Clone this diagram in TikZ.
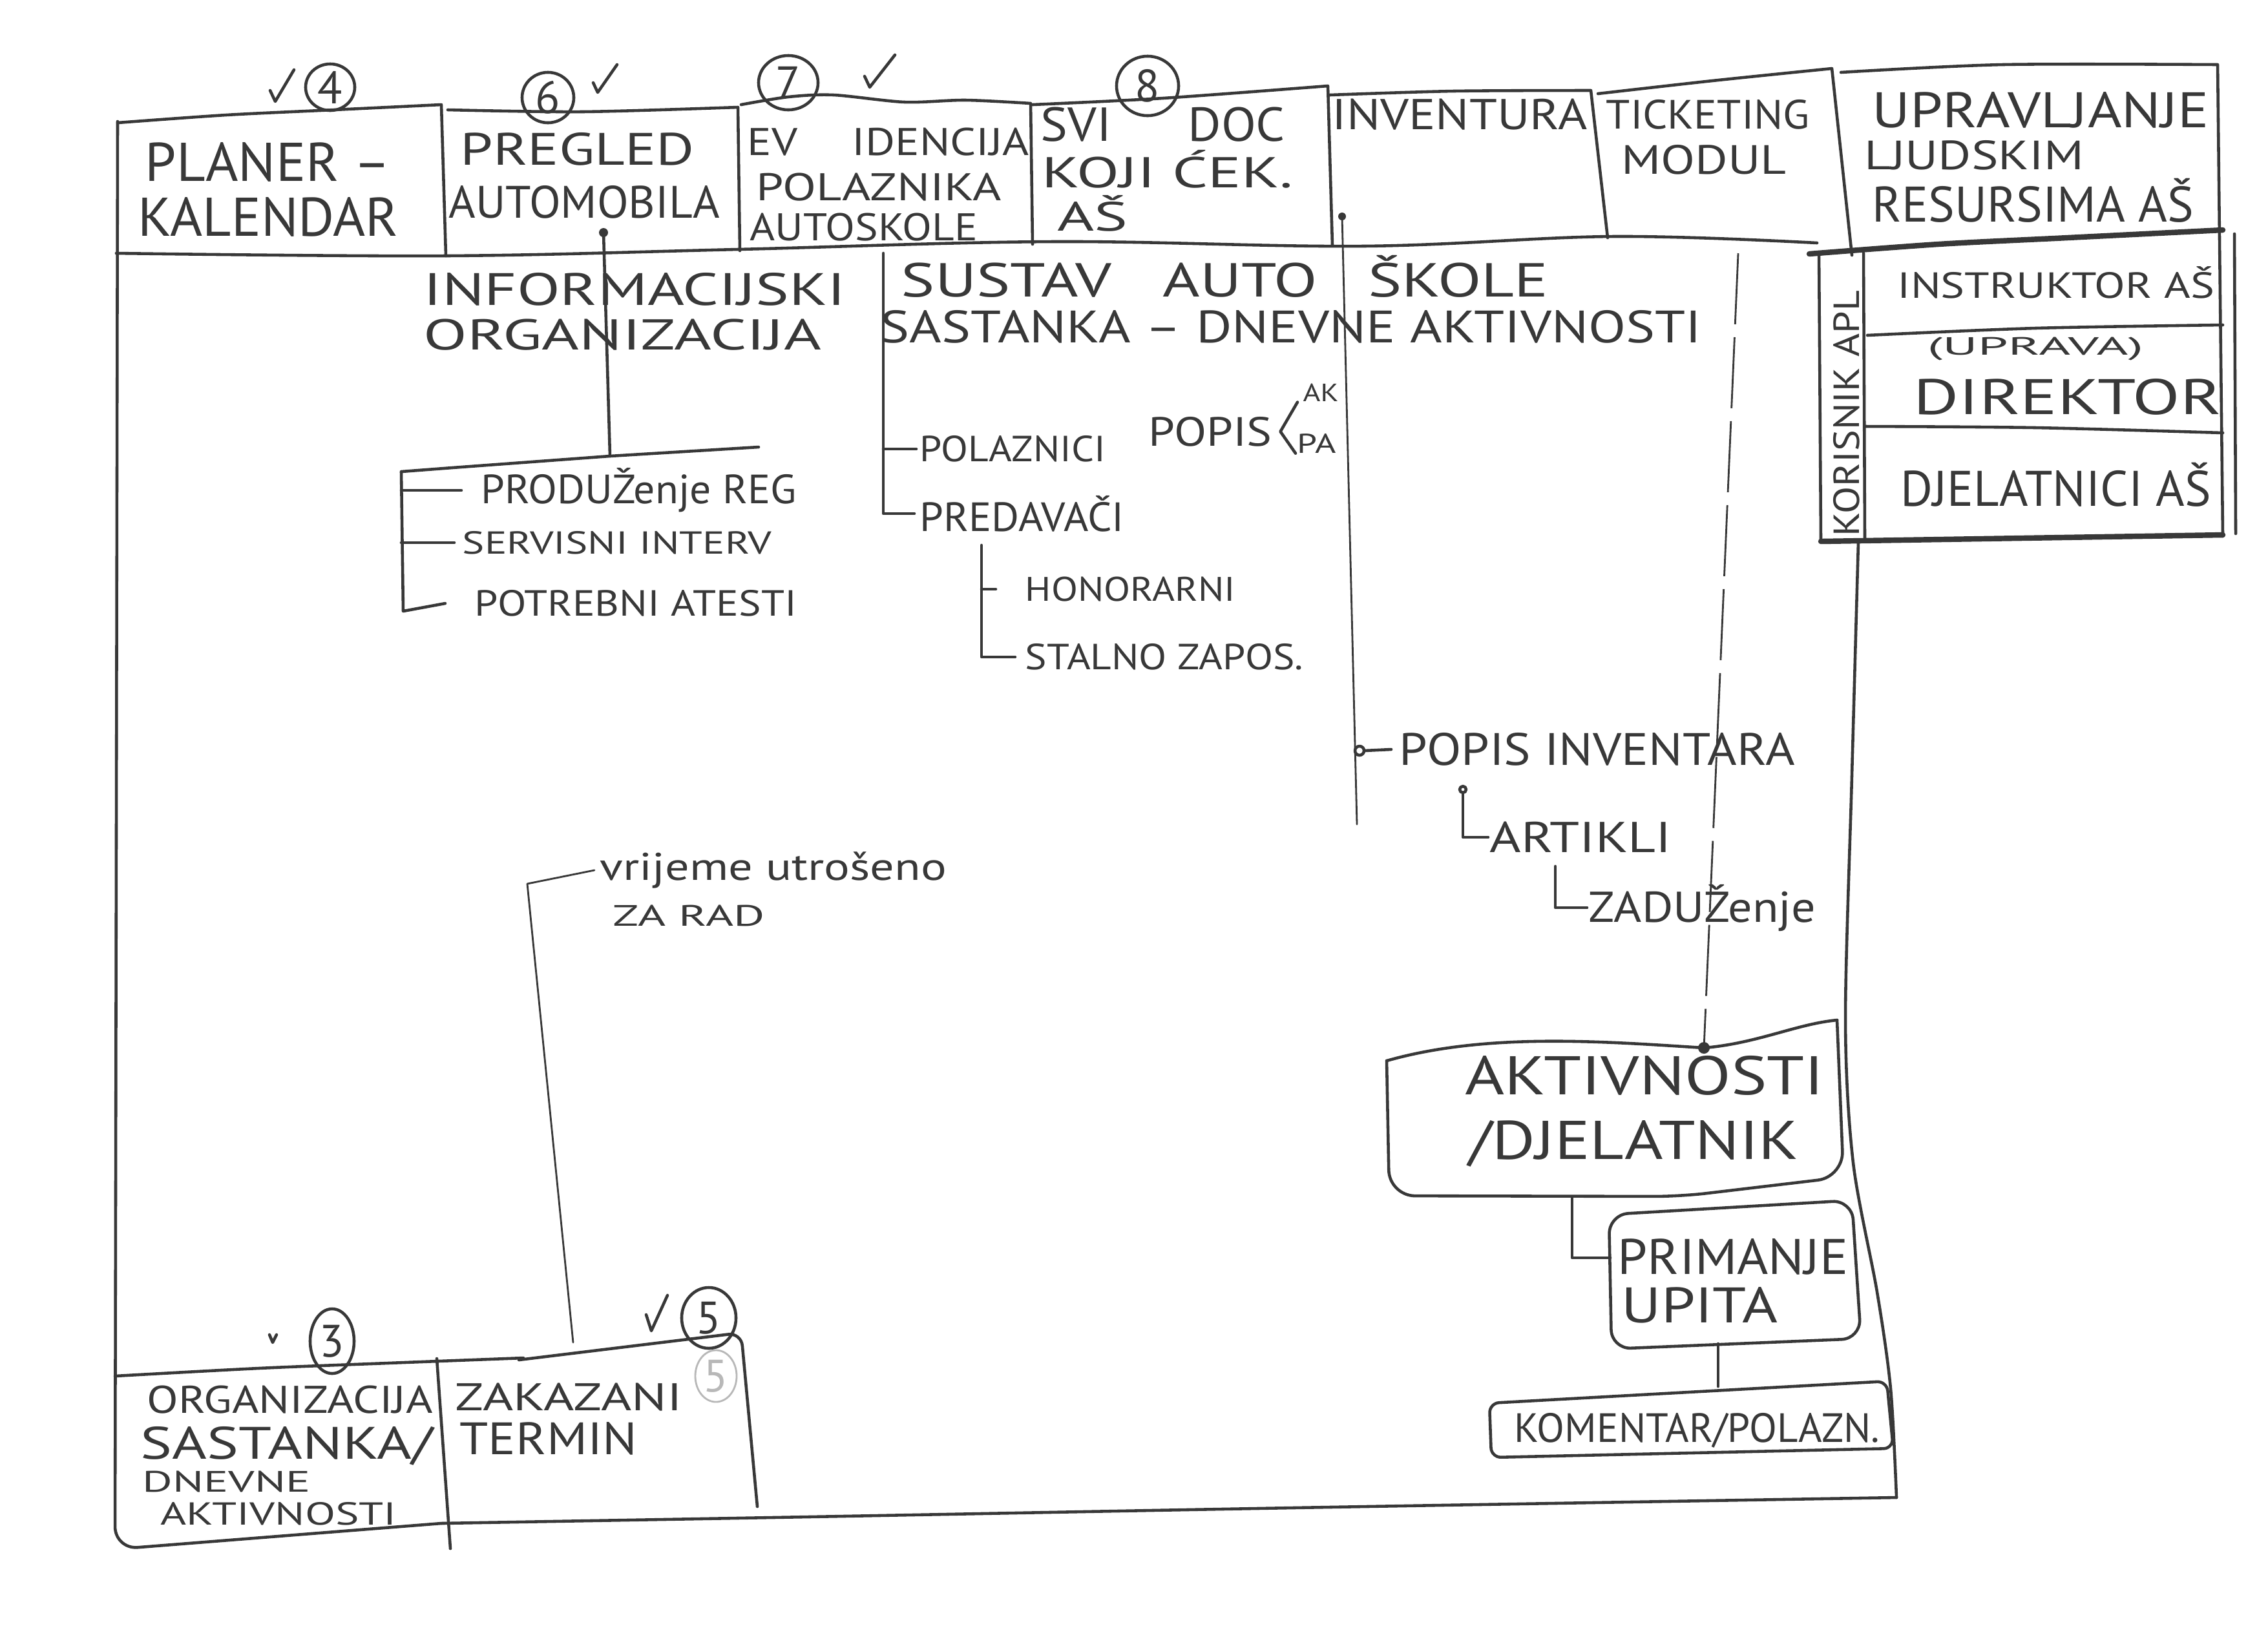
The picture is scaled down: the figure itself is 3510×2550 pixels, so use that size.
\documentclass[tikz,border=0pt]{standalone}
\usepackage{fontspec}
\setmainfont{PT Sans}
\usepackage{graphicx}
\usetikzlibrary{shapes.geometric}
\definecolor{ink}{HTML}{383838}
\definecolor{faint}{HTML}{B8B8B8}
% label text: font size, target width, content (stretched horizontally only)
\newcommand\hand[3]{\resizebox{#2}{\height}{\fontsize{#1}{#1}\selectfont #3}}

\begin{document}
\begin{tikzpicture}[x=0.01cm, y=-0.01cm,
  pen/.style={draw=ink, line width=1.3pt, line cap=round, line join=round},
  thinpen/.style={draw=ink, line width=0.8pt, line cap=round, line join=round},
  heavy/.style={draw=ink, line width=2.4pt, line cap=round, line join=round},
  guide/.style={draw=ink, line width=0.8pt, dash pattern=on 1.1cm off 0.2cm},
  lbl/.style={anchor=west, inner sep=0pt, text=ink},
  num/.style={ellipse, draw=ink, line width=1.3pt, inner sep=0pt, text=ink,
              font=\fontsize{20}{20}\selectfont},
]
\fill[white] (0,0) rectangle (3510,2550);
\useasboundingbox (0,0) rectangle (3510,2550);

% ---------- main board ----------
\draw[pen] plot[smooth, tension=0.6] coordinates {(180,392) (689,396) (1142,386) (1630,374) (2109,381) (2497,366) (2812,376)};
\draw[pen, rounded corners=0.35cm] (182,188) -- (178,2398) -- (683,2358);
\draw[pen] plot[smooth] coordinates {(683,2358) (1250,2348) (2000,2334) (2935,2318)};
\draw[pen] plot[smooth, tension=0.5] coordinates {(2876,838) (2866,1200) (2856,1580) (2868,1800) (2905,2000) (2926,2150) (2935,2318)};

% ---------- top tabs ----------
\draw[pen] plot[smooth] coordinates {(182,190) (350,178) (517,170) (683,162)} -- (690,396);
\draw[pen] plot[smooth] coordinates {(693,170) (900,173) (1142,166)} -- (1145,388);
\draw[pen] plot[smooth] coordinates {(1147,162) (1220,150) (1290,147) (1400,158) (1494,155) (1595,160)} -- (1598,378);
\draw[pen] plot[smooth] coordinates {(1598,162) (1800,152) (2055,133)} -- (2062,380);
\draw[pen] plot[smooth] coordinates {(2058,147) (2250,141) (2462,140)} -- (2488,368);
\draw[pen] plot[smooth] coordinates {(2473,145) (2650,125) (2835,106)} -- (2866,395);
\draw[pen] plot[smooth] coordinates {(2849,112) (3100,100) (3432,100)} -- (3440,830);

\node[lbl] (planer) at (224,251) {\hand{24pt}{3.8cm}{PLANER –}};
\node[lbl] (kalendar) at (213,336) {\hand{24pt}{4.03cm}{KALENDAR}};
\node[lbl] (pregled) at (712,231) {\hand{20pt}{3.62cm}{PREGLED}};
\node[lbl] (automobila) at (694,313) {\hand{20pt}{4.19cm}{AUTOMOBILA}};
\node[lbl] (evid) at (1156,220) {\hand{17pt}{4.36cm}{EV\hspace{1.2em}IDENCIJA}};
\node[lbl] (polaznika) at (1170,290) {\hand{17pt}{3.79cm}{POLAZNIKA}};
\node[lbl] (autoskole) at (1160,352) {\hand{17pt}{3.52cm}{AUTOSKOLE}};
\node[lbl] (svidoc) at (1610,193) {\hand{21pt}{3.78cm}{SVI\hspace{1.5em}DOC}};
\node[lbl] (kojicek) at (1612,262) {\hand{19pt}{3.88cm}{KOJI ĆEK.}};
\node[lbl] (asdoc) at (1636,330) {\hand{18pt}{1.09cm}{AŠ}};
\node[lbl] (inventura) at (2061,177) {\hand{19pt}{3.95cm}{INVENTURA}};
\node[lbl] (ticketing) at (2485,177) {\hand{18pt}{3.15cm}{TICKETING}};
\node[lbl] (modul) at (2509,247) {\hand{18pt}{2.55cm}{MODUL}};
\node[lbl] (upravljanje) at (2897,170) {\hand{22pt}{5.21cm}{UPRAVLJANJE}};
\node[lbl] (ljudskim) at (2885,240) {\hand{18pt}{3.39cm}{LJUDSKIM}};
\node[lbl] (resursima) at (2897,310) {\hand{22pt}{4.97cm}{RESURSIMA AŠ}};

% order numbers and ticks on the top tabs
\node[num, minimum width=0.76cm, minimum height=0.72cm] (n4) at (511,135) {4};
\node[num, minimum width=0.80cm, minimum height=0.78cm] (n6) at (848,151) {6};
\node[num, minimum width=0.92cm, minimum height=0.84cm] (n7) at (1220,128) {7};
\node[num, minimum width=0.96cm, minimum height=0.92cm] (n8) at (1776,133) {8};
\draw[pen] (418,140) -- (426,157) -- (455,108);
\draw[pen] (918,128) -- (925,143) -- (955,100);
\draw[pen] (1338,118) -- (1346,135) -- (1385,85);

% ---------- user roles ----------
\draw[heavy] plot[smooth] coordinates {(2800,393) (3000,378) (3200,368) (3440,356)};
\draw[pen] (2815,390) -- (2818,838);
\draw[pen] (2884,392) -- (2886,838);
\draw[heavy] (2818,838) -- (3440,828);
\draw[pen] (3458,362) -- (3460,826);
\draw[pen] plot[smooth] coordinates {(2890,519) (3150,508) (3440,503)};
\draw[pen] plot[smooth] coordinates {(2886,660) (3150,662) (3440,670)};
\node[anchor=center, inner sep=0pt, text=ink, rotate=90] (korisnik) at (2858,640) {\hand{16pt}{3.8cm}{KORISNIK APL}};
\node[lbl] (instr) at (2936,437) {\hand{16pt}{4.9cm}{INSTRUKTOR AŠ}};
\node[lbl] (uprava) at (2982,540) {\hand{11pt}{3.34cm}{(UPRAVA)}};
\node[lbl] (direktor) at (2961,614) {\hand{22pt}{4.76cm}{DIREKTOR}};
\node[lbl] (djelatnici) at (2941,750) {\hand{22pt}{4.8cm}{DJELATNICI AŠ}};

% ---------- title ----------
\node[lbl] (info) at (655,448) {\hand{20pt}{6.53cm}{INFORMACIJSKI}};
\node[lbl] (sustav) at (1394,428) {\hand{21pt}{10.01cm}{SUSTAV\hspace{0.8em}AUTO\hspace{0.8em}ŠKOLE}};
\node[lbl] (organiz) at (655,518) {\hand{19pt}{6.15cm}{ORGANIZACIJA}};
\node[lbl] (sastanka) at (1362,506) {\hand{20pt}{12.7cm}{SASTANKA – DNEVNE AKTIVNOSTI}};

% ---------- vehicle tree ----------
\node[lbl] (prodreg) at (744,759) {\hand{18pt}{4.88cm}{PRODUŽenje REG}};
\node[lbl] (servis) at (715,840) {\hand{14pt}{4.78cm}{SERVISNI INTERV}};
\node[lbl] (atesti) at (734,934) {\hand{16pt}{4.98cm}{POTREBNI ATESTI}};
\coordinate (autoDot) at (934,360);
\coordinate (regJoin) at (944,706);
\coordinate (regCorner) at (621,730);
\coordinate (regBottom) at (624,946);
\fill[ink] (autoDot) circle[radius=0.07cm];
\draw[pen] (autoDot) -- (regJoin);
\draw[pen] (1174,692) -- (regJoin) -- (700,724) -- (regCorner) -- (regBottom) -- ([xshift=-0.45cm]atesti.west);
\draw[pen] (regCorner |- prodreg.west) -- ([xshift=-0.3cm]prodreg.west);
\draw[pen] (regCorner |- servis.west) -- ([xshift=-0.12cm]servis.west);

% ---------- participants and lecturers ----------
\node[lbl] (polaznici) at (1423,695) {\hand{16pt}{2.87cm}{POLAZNICI}};
\node[lbl] (popis) at (1777,668) {\hand{18pt}{1.91cm}{POPIS}};
\node[lbl] (ak) at (2016,608) {\hand{11pt}{0.55cm}{AK}};
\node[lbl] (pa) at (2007,686) {\hand{12pt}{0.6cm}{PA}};
\node[lbl] (predavaci) at (1423,795) {\hand{18pt}{3.16cm}{PREDAVAČI}};
\node[lbl] (honorarni) at (1586,912) {\hand{15pt}{3.25cm}{HONORARNI}};
\node[lbl] (stalno) at (1586,1017) {\hand{16pt}{4.3cm}{STALNO ZAPOS.}};
\coordinate (midTop) at (1367,392);
\draw[pen] (midTop) |- ([xshift=-0.08cm]predavaci.west);
\draw[pen] (midTop |- polaznici.west) -- ([xshift=-0.05cm]polaznici.west);
\draw[pen] ([xshift=-0.08cm]ak.south west) -- ([xshift=0.12cm]popis.east) -- ([xshift=-0.02cm]pa.south west);
\coordinate (lecTop) at (1519,844);
\draw[pen] (lecTop) |- ([xshift=-0.15cm]stalno.west);
\draw[pen] (lecTop |- honorarni.west) -- ([xshift=-0.45cm]honorarni.west);

% ---------- inventory ----------
\node[lbl] (popinv) at (2165,1160) {\hand{20pt}{6.12cm}{POPIS INVENTARA}};
\node[lbl] (artikli) at (2305,1296) {\hand{19pt}{2.81cm}{ARTIKLI}};
\node[lbl] (zaduz) at (2458,1405) {\hand{19pt}{3.51cm}{ZADUŽenje}};
\coordinate (invDot) at (2077,335);
\coordinate (invEnd) at (2100,1276);
\coordinate (invKnot) at (2104,1162);
\fill[ink] (invDot) circle[radius=0.06cm];
\draw[thinpen] (invDot) -- (invEnd);
\draw[pen] (invKnot) circle[radius=0.07cm];
\draw[pen] ([xshift=0.07cm]invKnot) -- ([xshift=-0.12cm]popinv.west);
\coordinate (artTop) at (2264,1222);
\draw[pen] (artTop) circle[radius=0.05cm];
\draw[pen] ([yshift=-0.05cm]artTop) |- ([xshift=-0.02cm]artikli.west);
\coordinate (zadTop) at (2407,1341);
\draw[pen] (zadTop) |- ([xshift=-0.02cm]zaduz.west);

% ---------- activities, queries, comments ----------
\coordinate (guideTop) at (2690,392);
\coordinate (aktDot) at (2637,1622);
\draw[guide] (guideTop) -- (aktDot);
\draw[pen] (2146,1642) .. controls (2300,1598) and (2480,1612) .. (aktDot) .. controls (2720,1615) and (2780,1585) .. (2843,1579);
\draw[pen, rounded corners=0.4cm] (2146,1642) -- (2150,1851) -- (2600,1852) -- (2853,1822) -- (2843,1579);
\fill[ink] (aktDot) circle[radius=0.09cm];
\node[lbl] (akt) at (2267,1665) {\hand{24pt}{5.55cm}{AKTIVNOSTI}};
\node[lbl] (djelatnik) at (2273,1770) {\hand{24pt}{5.1cm}{/DJELATNIK}};

\coordinate (aktBot) at (2433,1853);
\coordinate (primLeft) at (2492,1947);
\draw[pen] (aktBot) |- (primLeft);
\draw[pen, rounded corners=0.3cm] (2866,1858) -- (2490,1880) -- (2494,2088) -- (2880,2072) -- cycle;
\node[lbl] (primanje) at (2503,1945) {\hand{22pt}{3.57cm}{PRIMANJE}};
\node[lbl] (upita) at (2509,2020) {\hand{22pt}{2.42cm}{UPITA}};

\coordinate (primBot) at (2659,2080);
\coordinate (komTop) at (2659,2146);
\draw[pen] (primBot) -- (komTop);
\draw[pen, rounded corners=0.15cm] (2305,2172) -- (2920,2138) -- (2930,2242) -- (2308,2256) -- cycle;
\node[lbl] (komentar) at (2343,2214) {\hand{18pt}{5.65cm}{KOMENTAR/POLAZN.}};

% ---------- working time ----------
\node[lbl] (vr1) at (928,1347) {\hand{17pt}{5.36cm}{vrijeme utrošeno}};
\node[lbl] (vr2) at (948,1417) {\hand{13pt}{2.35cm}{ZA RAD}};
\coordinate (vrCorner) at (816,1368);
\coordinate (zakTop) at (887,2078);
\draw[thinpen] ([xshift=-0.08cm]vr1.west) -- (vrCorner) -- (zakTop);

% ---------- bottom tabs ----------
\draw[pen] plot[smooth] coordinates {(178,2130) (400,2118) (600,2110) (810,2102)};
\draw[pen] (676,2103) -- (697,2397);
\draw[pen, rounded corners=0.2cm] (803,2105) -- (1147,2063) -- (1172,2332);
\node[lbl] (org1) at (227,2167) {\hand{17pt}{4.42cm}{ORGANIZACIJA}};
\node[lbl] (org2) at (217,2238) {\hand{20pt}{4.52cm}{SASTANKA/}};
\node[lbl] (org3) at (220,2293) {\hand{13pt}{2.6cm}{DNEVNE}};
\node[lbl] (org4) at (248,2343) {\hand{14pt}{3.65cm}{AKTIVNOSTI}};
\node[lbl] (zak1) at (704,2163) {\hand{17pt}{3.51cm}{ZAKAZANI}};
\node[lbl] (zak2) at (711,2227) {\hand{20pt}{2.74cm}{TERMIN}};

\node[num, minimum width=0.68cm, minimum height=1.0cm] (n3) at (514,2076) {3};
\node[num, minimum width=0.84cm, minimum height=0.94cm] (n5) at (1097,2040) {5};
\node[num, draw=faint, text=faint, line width=0.8pt, minimum width=0.64cm, minimum height=0.8cm] (n5b) at (1108,2130) {5};
\draw[pen] (417,2066) -- (422,2078) -- (428,2066);
\draw[pen] (1000,2035) -- (1008,2060) -- (1033,2005);
\end{tikzpicture}
\end{document}
